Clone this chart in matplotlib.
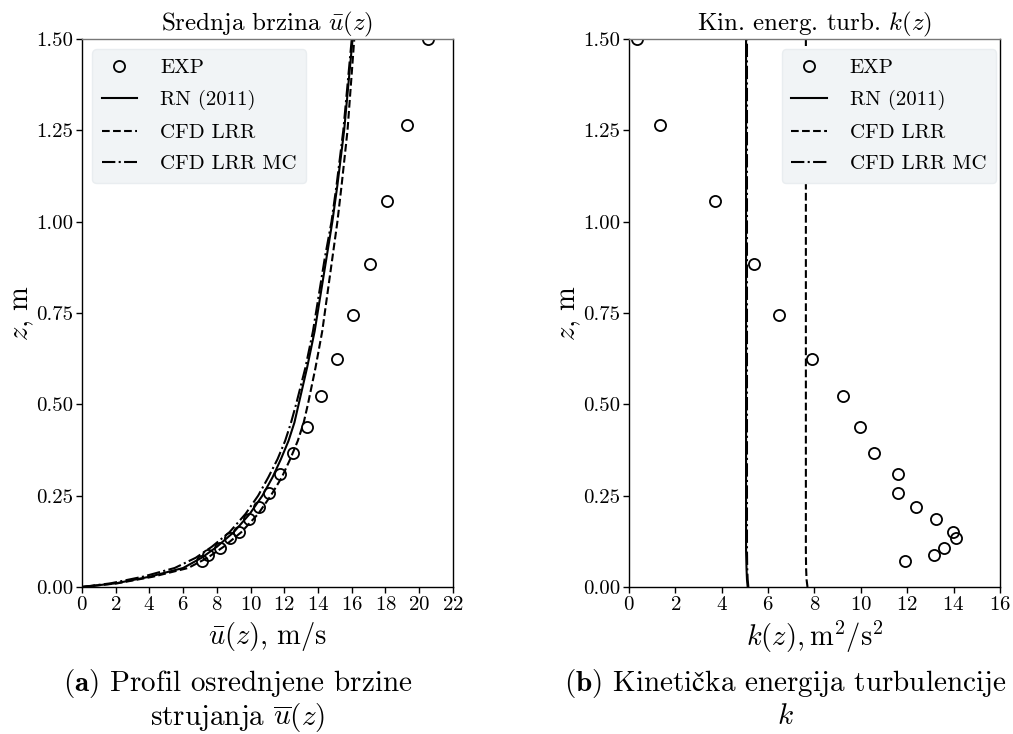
import matplotlib
matplotlib.use("Agg")
import matplotlib.pyplot as plt
import numpy as np

plt.rcParams['font.family'] = ['cmr10', 'DejaVu Serif']
plt.rcParams['mathtext.fontset'] = 'cm'
plt.rcParams['axes.formatter.use_mathtext'] = True

# --- measured data (EXP) ---
z_exp = [1.50, 1.265, 1.057, 0.883, 0.745, 0.624, 0.523, 0.438, 0.367,
         0.308, 0.258, 0.218, 0.185, 0.151, 0.133, 0.107, 0.087, 0.071]
u_exp = [20.5, 19.3, 18.1, 17.1, 16.1, 15.1, 14.2, 13.35, 12.5,
         11.75, 11.1, 10.5, 9.9, 9.3, 8.8, 8.2, 7.5, 7.1]
k_exp = [0.34, 1.35, 3.72, 5.4, 6.47, 7.9, 9.24, 9.96, 10.56,
         11.6, 11.62, 12.38, 13.24, 13.96, 14.11, 13.6, 13.15, 11.9]

# --- model profiles, velocity ---
z_mod = [0, 0.01, 0.028, 0.052, 0.08, 0.11, 0.15, 0.2, 0.25, 0.3, 0.35,
         0.4, 0.45, 0.5, 0.6, 0.7, 0.8, 0.9, 1.0, 1.1, 1.25, 1.5]
u_rn = [0, 2.0, 4.0, 6.0, 7.1, 8.0, 9.0, 9.95, 10.7, 11.3, 11.8,
        12.25, 12.6, 12.85, 13.35, 13.8, 14.15, 14.5, 14.85, 15.15, 15.55, 16.05]
u_lrr = [0, 2.1, 4.2, 6.3, 7.45, 8.4, 9.45, 10.45, 11.2, 11.85, 12.35,
         12.8, 13.15, 13.4, 13.85, 14.25, 14.55, 14.85, 15.15, 15.4, 15.75, 16.15]
u_lrr_mc = [0, 1.7, 3.6, 5.5, 6.75, 7.7, 8.75, 9.7, 10.45, 11.05, 11.6,
            12.05, 12.4, 12.7, 13.25, 13.7, 14.05, 14.4, 14.8, 15.1, 15.5, 16.0]

# --- model profiles, turbulent kinetic energy ---
z_k = [0, 0.02, 0.05, 0.1, 0.5, 1.0, 1.5]
k_rn = [5.12, 5.09, 5.07, 5.05, 5.05, 5.05, 5.05]
k_lrr = [7.7, 7.66, 7.64, 7.63, 7.63, 7.63, 7.63]
k_lrr_mc = [5.15, 5.12, 5.1, 5.09, 5.09, 5.09, 5.09]

fig = plt.figure(figsize=(10.13, 7.34), dpi=100)
ax1 = fig.add_axes([0.0809, 0.2003, 0.3662, 0.7466])
ax2 = fig.add_axes([0.6209, 0.2003, 0.3662, 0.7466])

mk = dict(marker='o', ls='none', mfc='none', mec='black', ms=8, mew=1.3)
lw = 1.5

ax1.plot(u_exp, z_exp, label='EXP', **mk)
ax1.plot(u_rn, z_mod, 'k-', lw=lw, label='RN (2011)')
ax1.plot(u_lrr, z_mod, 'k--', lw=lw, label='CFD LRR')
ax1.plot(u_lrr_mc, z_mod, 'k-.', lw=lw, label='CFD LRR MC')

ax2.plot(k_exp, z_exp, label='EXP', **mk)
ax2.plot(k_rn, z_k, 'k-', lw=lw, label='RN (2011)')
ax2.plot(k_lrr, z_k, 'k--', lw=lw, label='CFD LRR')
ax2.plot(k_lrr_mc, z_k, 'k-.', lw=lw, label='CFD LRR MC')

ax1.set_xlim(0, 22)
ax1.set_xticks(np.arange(0, 23, 2))
ax2.set_xlim(0, 16)
ax2.set_xticks(np.arange(0, 17, 2))

for ax in (ax1, ax2):
    ax.set_ylim(0, 1.5)
    ax.set_yticks([0, 0.25, 0.5, 0.75, 1.0, 1.25, 1.5])
    ax.set_yticklabels(['0.00', '0.25', '0.50', '0.75', '1.00', '1.25', '1.50'])
    ax.tick_params(labelsize=15, direction='out', length=4.5, width=1, pad=2)
    ax.set_ylabel('$z$, m', fontsize=20.5, labelpad=0)
    for s in ax.spines.values():
        s.set_linewidth(1.0)
    ax.spines['top'].set_color('#777777')

ax1.set_xlabel(r'$\bar{u}(z)$, m/s', fontsize=20.5, labelpad=4)
ax2.set_xlabel(r'$k(z), \mathrm{m}^2/\mathrm{s}^2$', fontsize=20.5, labelpad=4)
ax1.set_title(r'Srednja brzina $\bar{u}(z)$', fontsize=18, pad=2)
ax2.set_title(r'Kin. energ. turb. $k(z)$', fontsize=18, pad=2)

leg_kw = dict(fontsize=15, facecolor='#f1f4f6', edgecolor='#e9edf0',
              framealpha=1.0, fancybox=True, handlelength=1.7,
              borderpad=0.45, labelspacing=0.62, handletextpad=1.1)
ax1.legend(loc='upper left', **leg_kw)
ax2.legend(loc='upper right', bbox_to_anchor=(1.017, 1.0), **leg_kw)

cap = dict(ha='center', va='center', fontsize=21)
fig.text(238 / 1013, 1 - 684 / 734, r'$\mathbf{(a)}$ Profil osrednjene brzine', **cap)
fig.text(238 / 1013, 1 - 717 / 734, r'strujanja $\overline{u}(z)$', **cap)
fig.text(785 / 1013, 1 - 684 / 734,
         r'$\mathbf{(b)}$ Kineti$\mathrm{č}$ka energija turbulencije', **cap)
fig.text(785 / 1013, 1 - 717 / 734, r'$k$', **cap)

fig.savefig('out.png', dpi=100)
